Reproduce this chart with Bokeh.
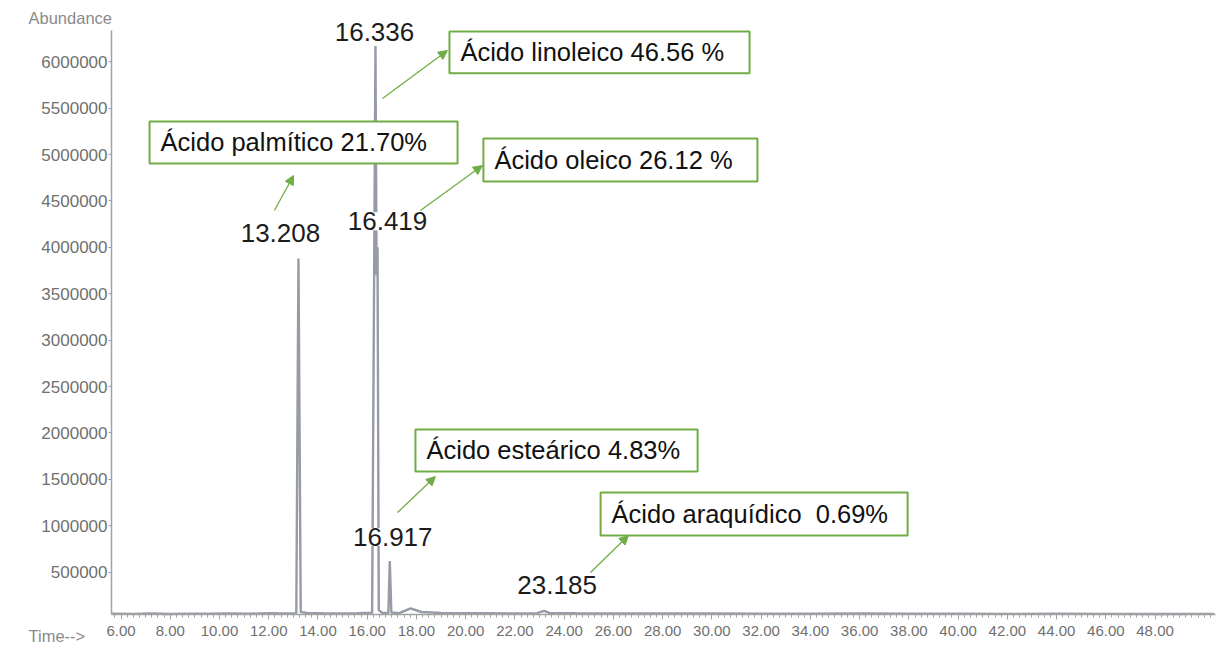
from bokeh.plotting import figure
from bokeh.models import (Range1d, FixedTicker, NumeralTickFormatter, Label,
                          Arrow, NormalHead, ColumnDataSource)
from bokeh.core.properties import value
from bokeh.embed import file_html
from bokeh.resources import INLINE

# --- chromatogram trace: retention time (min) vs abundance (counts) ---
trace_time = [5.62, 6.5, 7.2, 8.0, 8.8, 9.6, 10.4, 11.2, 12.0, 12.6, 13.12,
              13.208, 13.30, 13.6, 14.2, 15.0, 15.6, 16.20, 16.336, 16.38,
              16.419, 16.47, 16.60, 16.86, 16.917, 16.98, 17.3, 17.76, 18.2,
              19.0, 20.0, 21.0, 22.0, 22.9, 23.185, 23.4, 24.5, 26.0, 28.0,
              30.0, 32.0, 34.0, 36.0, 38.0, 40.0, 42.0, 44.0, 46.0, 48.0, 50.4]
trace_abund = [52000, 50000, 54000, 49000, 53000, 51000, 55000, 52000, 56000,
               55000, 58000, 3880000, 70000, 58000, 56000, 55000, 57000,
               62000, 6170000, 3700000, 4000000, 90000, 62000, 60000, 620000,
               64000, 58000, 110000, 70000, 60000, 57000, 56000, 55000, 58000,
               82000, 60000, 57000, 55000, 54000, 55000, 53000, 52000, 54000,
               51000, 52000, 50000, 51000, 50000, 49000, 50000]

# --- identified peaks ---
peak_rt = [13.208, 16.336, 16.419, 16.917, 23.185]
peak_abund = [3880000, 6170000, 4000000, 620000, 80000]
peak_text = ["13.208", "16.336", "16.419", "16.917", "23.185"]

# --- fatty acid composition callouts ---
acid_text = ["Ácido palmítico 21.70%", "Ácido linoleico 46.56 %",
             "Ácido oleico 26.12 %", "Ácido esteárico 4.83%",
             "Ácido araquídico\u00a0 0.69%"]
acid_pct = [21.70, 46.56, 26.12, 4.83, 0.69]

# tick values
x_ticks = [6, 8, 10, 12, 14, 16, 18, 20, 22, 24, 26, 28, 30, 32, 34, 36, 38,
           40, 42, 44, 46, 48]
y_ticks = [500000, 1000000, 1500000, 2000000, 2500000, 3000000, 3500000,
           4000000, 4500000, 5000000, 5500000, 6000000]

# axis extents
T_START, T_END = 5.614, 50.456
A_START, A_TOP = 43100, 6340000

# --- layout (positions of callouts, in time / abundance units) ---
box_left = [7.16, 19.34, 20.72, 17.96, 25.48]
box_right = [19.67, 31.53, 31.85, 29.42, 37.95]
box_top = [5356000, 6325000, 5172000, 2037000, 1358000]
box_bottom = [4903000, 5876000, 4709000, 1584000, 894000]

arrow_x0 = [12.23, 16.62, 18.16, 17.23, 25.07]
arrow_y0 = [4396000, 5604000, 4396000, 1142000, 496000]
arrow_x1 = [13.01, 19.26, 20.68, 18.77, 26.61]
arrow_y1 = [4774000, 6121000, 4881000, 1530000, 894000]

peak_dx = [-18, -1, 10, 3, 13]
peak_dy = [-25, -14, -26, -24, -26]

GREEN = "#70ad47"
AXIS_GRAY = "#a2a2a2"
LABEL_GRAY = "#707070"
FONT = "Liberation Sans"

p = figure(width=1228, height=651, output_backend="svg", toolbar_location=None,
           x_range=Range1d(1.1056, 50.983), y_range=Range1d(-355600, 6659570),
           min_border=0)
p.outline_line_color = None
p.xgrid.visible = False
p.ygrid.visible = False
p.background_fill_color = "white"
p.border_fill_color = "white"

# x axis, drawn along the bottom of the trace
p.xaxis.fixed_location = A_START
p.xaxis.bounds = (T_START, T_END)
p.xaxis.ticker = FixedTicker(ticks=x_ticks,
                             minor_ticks=[5.75 + 0.25 * i for i in range(179)])
p.xaxis.formatter = NumeralTickFormatter(format="0.00")
p.xaxis.axis_line_color = AXIS_GRAY
p.xaxis.axis_line_width = 1.5
p.xaxis.major_tick_line_color = AXIS_GRAY
p.xaxis.minor_tick_line_color = AXIS_GRAY
p.xaxis.major_tick_out = 5
p.xaxis.major_tick_in = 0
p.xaxis.minor_tick_out = 3
p.xaxis.minor_tick_in = 0
p.xaxis.major_label_standoff = 6
p.xaxis.major_label_text_font = FONT
p.xaxis.major_label_text_font_size = "15px"
p.xaxis.major_label_text_color = LABEL_GRAY

# y axis, drawn at the start of the time window
p.yaxis.fixed_location = T_START
p.yaxis.bounds = (A_START, A_TOP)
p.yaxis.ticker = FixedTicker(ticks=y_ticks, minor_ticks=[])
p.yaxis.formatter = NumeralTickFormatter(format="0")
p.yaxis.axis_line_color = AXIS_GRAY
p.yaxis.axis_line_width = 1.5
p.yaxis.major_tick_line_color = AXIS_GRAY
p.yaxis.major_tick_out = 3
p.yaxis.major_tick_in = 0
p.yaxis.major_label_standoff = 1
p.yaxis.major_label_text_font = FONT
p.yaxis.major_label_text_font_size = "17px"
p.yaxis.major_label_text_color = LABEL_GRAY

# chromatogram
p.line(trace_time, trace_abund, line_color="#969ba6", line_width=2.4)

# retention-time labels over each peak
peak_src = ColumnDataSource(dict(x=peak_rt, y=peak_abund, text=peak_text,
                                 dx=peak_dx, dy=peak_dy))
p.text(x="x", y="y", text="text", x_offset="dx", y_offset="dy",
       source=peak_src, text_font=value(FONT), text_font_size="26px",
       text_color="#1c1c1c", text_align="center", text_baseline="middle",
       background_fill_color="white")

# callout boxes with composition
box_src = ColumnDataSource(dict(left=box_left, right=box_right, top=box_top,
                                bottom=box_bottom, text=acid_text,
                                pct=acid_pct,
                                ymid=[(t + b) / 2 for t, b in zip(box_top, box_bottom)]))
p.quad(left="left", right="right", top="top", bottom="bottom", source=box_src,
       fill_color="white", line_color=GREEN, line_width=2)
p.text(x="left", y="ymid", text="text", x_offset=11, source=box_src,
       text_font=value(FONT), text_font_size="25.5px", text_color="#111111",
       text_align="left", text_baseline="middle")

arrow_src = ColumnDataSource(dict(x0=arrow_x0, y0=arrow_y0, x1=arrow_x1,
                                  y1=arrow_y1))
p.add_layout(Arrow(end=NormalHead(size=9, fill_color=GREEN, line_color=GREEN),
                   x_start="x0", y_start="y0", x_end="x1", y_end="y1",
                   source=arrow_src, line_color=GREEN, line_width=1.3))

# axis captions
p.add_layout(Label(x=2.243, y=6466000, text="Abundance", text_font=FONT,
                   text_font_size="16.5px", text_color="#8a8a8a",
                   text_baseline="middle"))
p.add_layout(Label(x=2.243, y=-183200, text="Time-->", text_font=FONT,
                   text_font_size="16.5px", text_color="#8a8a8a",
                   text_baseline="middle"))

open("out.html", "w").write(file_html(p, INLINE))
